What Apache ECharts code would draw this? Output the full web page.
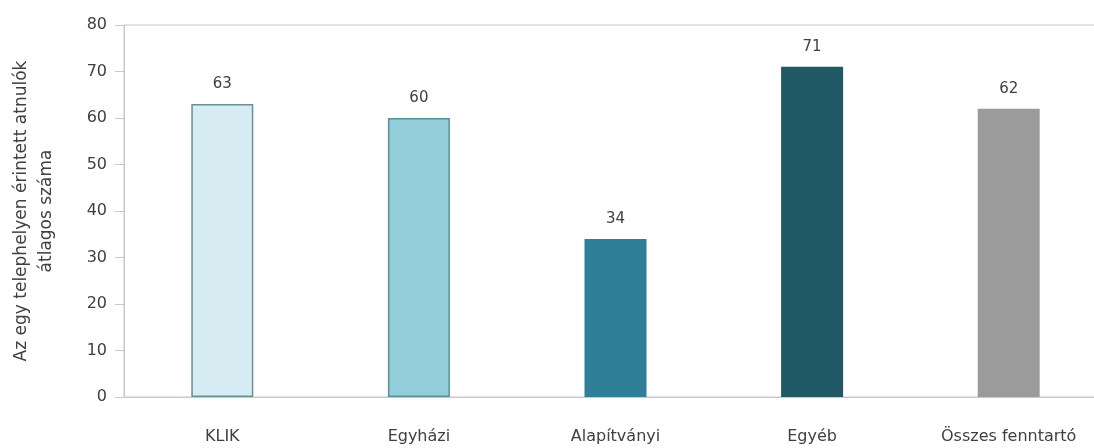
<!DOCTYPE html>
<html>
<head>
<meta charset="utf-8">
<script src="https://cdn.jsdelivr.net/npm/echarts@6/dist/echarts.min.js"></script>
<style>
html,body{margin:0;padding:0;background:#fff;}
#chart{width:1094px;height:448px;}
</style>
</head>
<body>
<div id="chart"></div>
<script>
const categories = ['KLIK', 'Egyházi', 'Alapítványi', 'Egyéb', 'Összes fenntartó'];
const values = [63, 60, 34, 71, 62];
const barColors = ['#d7ebf2', '#93cdda', '#2e7f97', '#215866', '#9b9b9b'];
const barBorders = ['#6a8f97', '#5a8f99', '#2e7f97', '#215866', '#9b9b9b'];
const yAxisTitle = 'Az egy telephelyen érintett atnulók\nátlagos száma';

const chart = echarts.init(document.getElementById('chart'));
const font = '"DejaVu Sans", "Open Sans", sans-serif';
chart.setOption({
  animation: false,
  textStyle: { fontFamily: font },
  grid: {
    left: 124, width: 983, top: 25, height: 372,
    outerBoundsMode: 'none',
    containLabel: false,
    show: true, borderColor: '#c8c8c8', borderWidth: 1, backgroundColor: 'transparent'
  },
  xAxis: {
    type: 'category',
    data: categories,
    axisLine: { lineStyle: { color: '#c8c8c8', width: 1 } },
    axisTick: { show: false },
    axisLabel: { color: '#404040', fontSize: 16, margin: 32, fontFamily: font }
  },
  yAxis: {
    type: 'value',
    min: 0, max: 80, interval: 10,
    name: yAxisTitle,
    nameLocation: 'middle',
    nameRotate: 90,
    nameGap: 65,
    nameTextStyle: { color: '#404040', fontSize: 17, lineHeight: 25, fontFamily: font },
    axisLine: { show: true, lineStyle: { color: '#c8c8c8', width: 1 } },
    axisTick: { show: true, length: 9, lineStyle: { color: '#c8c8c8' } },
    splitLine: { show: false },
    axisLabel: { color: '#404040', fontSize: 16, margin: 17, fontFamily: font }
  },
  series: [{
    type: 'bar',
    barWidth: 62,
    data: values.map((v, i) => ({
      value: v,
      itemStyle: { color: barColors[i], borderColor: barBorders[i], borderWidth: i < 2 ? 1.5 : 0 }
    })),
    label: { show: true, position: 'top', distance: 12, color: '#404040', fontSize: 15, fontFamily: font }
  }]
});
</script>
</body>
</html>
